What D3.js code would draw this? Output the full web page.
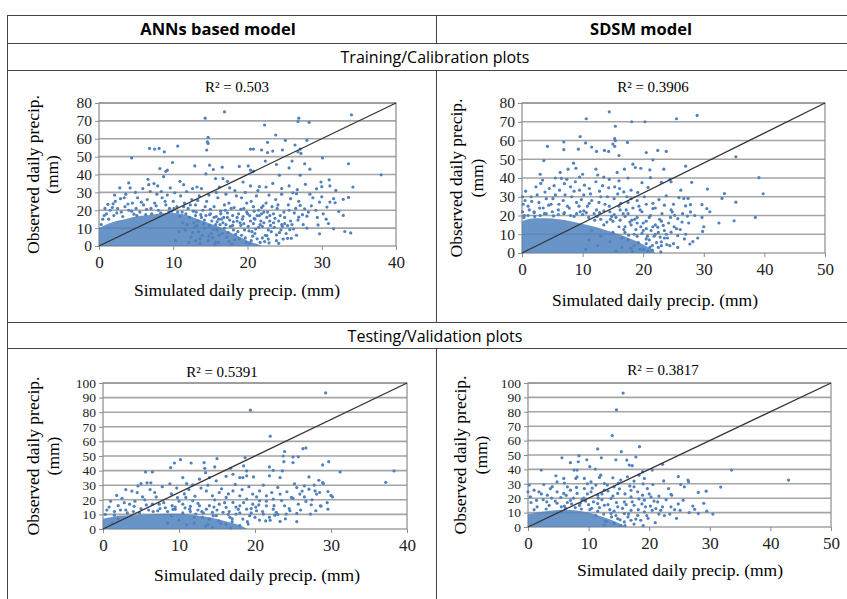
<!DOCTYPE html>
<html>
<head>
<meta charset="utf-8">
<script src="https://cdn.jsdelivr.net/npm/d3@7"></script>
<style>
  body { margin: 0; background: #fff; }
</style>
</head>
<body>
<div id="chart"></div>
<script>
// ---- values ----
var columnTitles = ["ANNs based model", "SDSM model"];
var rowTitles = ["Training/Calibration plots", "Testing/Validation plots"];
var r2Labels = ["R\u00B2 = 0.503", "R\u00B2 = 0.3906", "R\u00B2 = 0.5391", "R\u00B2 = 0.3817"];
var xTitle = "Simulated daily precip. (mm)";
var yTitle = ["Observed daily precip.", "(mm)"];

var xTicks40 = [0, 10, 20, 30, 40];
var xTicks50 = [0, 10, 20, 30, 40, 50];
var yTicks80 = [0, 10, 20, 30, 40, 50, 60, 70, 80];
var yTicks100 = [0, 10, 20, 30, 40, 50, 60, 70, 80, 90, 100];

// upper edge of the solid blue cloud near the origin [simulated, observed]
var annTrainCore = [[0,10],[1,12],[2,13.5],[3,14.5],[4,15.5],[5,16.5],[6,17],[7,17.5],[8,18],[9,18.5],[10,18.5],[11,18],[12,17],[13,15.5],[14,14],[15,12.5],[16,11],[17,9],[18,7],[19,5],[20,3],[21,1.5],[22,0]];
var sdsmTrainCore = [[0,17],[1,18],[2,18.5],[4,18.5],[6,18],[8,17],[10,15.5],[12,14],[14,12],[16,10],[18,7.5],[20,4.5],[21.5,1.5],[22,0]];
var annTestCore = [[0,7],[1,8],[2,9],[4,9.5],[6,10],[8,10.5],[10,10.5],[12,9.5],[14,8],[16,5.5],[18,2.5],[19,0]];
var sdsmTestCore = [[0,9],[2,10.5],[4,11.5],[6,12],[8,11.5],[10,10],[12,7.5],[14,4.5],[15.5,1.5],[16,0]];

// individual points outside the solid cloud [simulated, observed]
var annTrainPts = [
  [16.9,75],[14.3,71.5],[34,73.4],[26.9,71.5],[26.8,69.6],[28.3,69.2],[22.3,67.7],[23.8,62.1],[14.7,60.8],[14.6,58.3],
  [14.7,57.4],[22.7,58],[25.1,59.1],[26.4,56.5],[28,59.1],[6.8,54.6],[7.5,54.2],[8.1,54.6],[8.8,52.7],[10.6,55.9],
  [14.5,53.7],[20.4,54.2],[20.8,54.2],[21.9,53.7],[22.7,52.3],[23.4,53.1],[24.7,53.7],[27.1,54.2],[27.2,51.8],[26.8,52.7],
  [4.4,49.3],[30.1,49.3],[9.9,46.7],[22.4,47.5],[26,47.5],[12.9,44.8],[14.9,45.2],[15.4,42.8],[8.2,43.3],[9,41.8],
  [9.2,42.4],[8.7,38.8],[16.6,44.1],[18.9,44.5],[20.1,44.8],[20.4,42.4],[20.8,41.8],[23.9,45.6],[25.6,43.7],[24.3,39.6],
  [27.7,46],[28.4,43],[27.1,39.6],[33.6,46],[38,39.8],[6.6,37.3],[7.4,34.9],[7.9,33.6],[14.4,40.3],[15.7,37.7],
  [10.9,36.2],[11.4,34.3],[16.7,37.7],[17.3,36.2],[29.9,35.8],[31,37],[30,33.2],[31.1,33.6],[34.2,33],[33.6,27.2],
  [2.8,32.5],[4,35.3],[4.2,32.5],[1.2,23.3],[1.9,23.6],[2.9,26.5],[3.4,27],[5.9,32.1],[6.7,34.3],[9.6,32.5],
  [10.2,29.8],[12.6,32.1],[13.2,33],[13.8,32.1],[19.4,35.8],[20.4,33.6],[21.6,33.2],[22.5,33],[24.6,32.1],[25.6,33.6],
  [26.1,29.8],[26.6,29.3],[31.9,31.1],[31.6,26.5],[32.9,26.1],[31.1,24.6],[31.8,24.2],[29.7,24.6],[30.7,21.8],[32.3,19.3],
  [32.9,17.1],[29.5,11.8],[30.9,12.6],[31.6,9.6],[33.1,8.1],[33.9,7.3],[29.7,6.8],[26.9,16.1],[28,16.7],[27.7,20.8],
  [27.1,22.7],[25.4,11.4],[25.7,9.2],[25.4,4.3],[22.9,1.7],[22.8,3.9],[22.6,5.8],[23.9,6.2],[24.8,3.9],[25.9,4.3],
  [0.5,15],[1,18],[1.5,20],[2,17],[2.5,21],[3,19],[3.5,22],[4,20],[4.5,24],[5,21],[5.5,19],[6,23],[6.5,26],[7,21],
  [7.5,24],[8,20],[8.5,27],[9,23],[9.5,21],[10,25],[10.5,22],[11,28],[11.5,24],[12,21],[12.5,26],[13,23],[13.5,28],
  [5.2,27],[3.6,29],[7.8,29],[2.2,25],[0.8,21],[6.3,17.5],[9.8,19.5],[4.7,17.8],[11.2,19],
  [14,20],[14.5,25],[15,18],[15.5,22],[16,27],[16.5,15],[17,20],[17.5,24],[18,17],[18.5,28],[19,13],[19.5,21],[20,18],
  [20.5,25],[21,15],[21.5,20],[22,11],[22.5,24],[23,17],[23.5,13],[24,21],[24.5,9],[25,16],[25.5,23],[26,12],[14.2,10],
  [15.1,7],[16.3,12],[17.2,5],[18.1,9],[19.2,6],[20.1,11],[21.3,4],[20.6,8],[19.8,2],[18.6,14],[17.7,11],[16.8,16],
  [15.9,9],[15.2,14],[13.8,16],[13.4,8],[14.7,3],[16.1,2],[17.9,1],[21.8,14],[22.7,19],[23.2,8],[24.2,14],[23.8,26],
  [21.2,28],[19.7,30],[18.3,31],[17.1,29],[16.2,33],[20.8,22],[22.1,22.5],[19.4,16.5],[24.9,19],[25.8,26.5],[26.5,21],
  [24.6,29],[12.8,13],[13.1,19],[11.9,12],[12.4,5],[13.6,1.5],[15.6,0.8],[14.9,11.5],[17.4,7.5],[18.9,4],[20.3,1.5],
  [12.2,16],[12.9,10.5],[13.3,14],[13.9,6],[14.4,17],[15.3,4.5],[15.8,16.5],[16.6,7],[16.9,10],[17.6,14.5],[18.4,6.5],
  [18.8,18],[19.6,9],[20.4,14],[21,7],[21.6,17],[22.3,2.5],[20.9,19.5],[19.1,11.5],[17.3,18.5],[16.4,19.5],[14.1,12.5],
  [13,3],[15.7,12],[18.2,21.5],[19.9,24],[22.6,16],[23.6,10.5]
];
var annTrainPtsDense = [
  [10.3,3],[10.8,8],[11.3,13],[11.7,18],[12.1,2],[12.6,7.5],[13.2,11.5],[13.7,17.5],[14.3,22],[14.8,5.5],[15.4,9.5],
  [15.9,13.5],[16.4,18],[16.9,23],[17.5,2.5],[18,11.5],[18.6,16],[19.1,20.5],[19.7,4.5],[20.2,8.5],[20.8,12.5],[21.3,17],
  [21.9,21.5],[22.4,6],[23,14],[23.5,18],[24.1,23],[24.7,11],[25.2,7],[25.8,14],[26.3,18.5],[26.9,25],[27.5,12],
  [28.2,19],[28.8,27],[29.4,16],[30.2,18],
  [10.1,21],[10.9,16.5],[11.6,9],[12.3,23],[13,17],[13.6,4],[14.2,14.5],[15,20.5],[15.7,2],[16.2,6],[16.7,13],[17.3,16],
  [17.8,21],[18.3,3.5],[18.7,8],[19.3,15],[19.9,19],[20.5,3],[21.1,9.5],[21.7,12],[22.2,19],[22.8,9],[23.3,22],[23.9,3],
  [24.4,17],[25,12.5],[25.6,20],[26.2,9.5],[26.8,14.5],[27.4,17.5],[28,10],[28.6,22.5],[29.2,20],[30,27.5],[30.6,15],
  [0.3,12],[0.7,17],[1.3,15],[1.8,21.5],[2.4,18.5],[3.2,16.5],[3.9,23.5],[4.4,19.5],[5.1,17],[5.7,24.5],[6.4,20.5],
  [7.1,18],[7.7,22.5],[8.3,18.5],[8.9,25],[9.4,19],[10.6,19],[11.4,22],[12.7,19.5],[6.9,30.5],[8.4,30.5],[2.1,28.5],
  [4.9,30],[9.2,28.5],[11.8,30.5],[13.3,25.5],[14.8,28.5],[15.8,30],[17.6,32.5],[19.2,27],[21.4,31],[22.9,28.5],
  [23.4,35],[26.7,31.5],[28.4,29],[29.3,32],[27.8,34.5],
  [20.9,15.5],[21.9,18],[22.2,13],[23.1,11.5],[23.7,15.5],[24.3,7.5],[24.6,12],[21.5,10.5],[22,4.5],[20.7,5.5],
  [19.5,12.5],[18.1,13.5],[17.1,12],[16.1,15],[15.5,16],[14.9,17.5],[20.3,17],[24.2,1.5],[21.7,2],[26.6,6]
];
var sdsmTrainPts = [
  [14.4,75.3],[10.6,71.6],[15.4,67.6],[18.1,70],[20.3,70],[25.5,71.6],[28.9,73.4],[9.6,62.1],[15.3,61],[15.4,59.9],
  [15,58.1],[10.5,58.7],[6.9,59.2],[6.9,55.1],[4.2,56.9],[9.3,55.4],[11.5,56.5],[12.3,54.2],[13.6,54.7],[14.3,54.2],
  [15.3,56.9],[16,52],[17.4,59],[20.5,53.6],[22.4,54.7],[23.8,54.2],[21.6,49.7],[3.6,49.3],[35.3,51.3],[6.3,43],
  [7.6,44.7],[8.5,47.9],[8.9,45.2],[12.2,44.7],[9.5,40.5],[12.5,41.6],[14.4,39.3],[15.7,43],[16.9,44.7],[18.3,47.4],
  [18.7,45.6],[19.6,45.2],[21.1,44.3],[23.4,44.7],[21.2,40.2],[24.4,39.3],[24.6,38],[23,37.7],[27,46.3],[39.1,40.2],
  [39.8,31.6],[30.6,34.1],[33.4,31.7],[33,29.1],[35.3,27.1],[32.5,16],[35,17.2],[38.5,19],[29.7,25.8],[30.5,23.7],
  [29.7,19],[29.8,11.5],[26.7,29.1],[27.4,29.1],[27,25.1],[27.8,25.8],[27.8,21.9],[27.3,19.7],[26.2,33.5],[28,37.7],
  [21.6,23.7],[23.5,25.5],[24.8,21.9],[25.2,20.1],[25.7,18.3],[23.3,14.7],[24.6,11.1],[25.7,9.3],[26.8,7.5],[27.7,4.8],
  [28.2,6.1],[24.4,3.9],[25.7,3],[20.5,7.5],[21.3,12],[22.4,13.8],[21.1,3],[23,3.9],
  [2.3,35.3],[3.1,37.1],[3.4,38.9],[4.5,34.4],[5.3,35.9],[6.5,39.8],[7.4,39.3],[8,35.3],[8.8,38],[10.3,36.2],
  [11.1,34.4],[12.2,38],[13.3,35.9],[14.3,34.8],[15.3,35.3],[16.1,34.4],[16.8,32.6],[18,33.5],[19.1,32.3],
  [0.5,28],[1,25],[1.5,30],[2,22],[2.8,27],[3.5,24],[4,29],[4.8,26],[5.5,31],[6,23],[6.8,28],[7.5,25],[8.2,30],
  [9,27],[9.6,22],[10.2,31],[10.8,25],[11.5,28],[12.3,23],[13,30],[13.7,26],[14.5,22],[15.2,29],[16,25],[16.7,21],
  [17.5,27],[18.3,24],[19,28],[19.8,22],[20.5,26],[21.2,20],[22,24],[18.6,18],[20,16],
  [16,14],[17,11],[18,15],[19,9],[20,12],[21,7],[22,10],[23,6],[18.5,4],[19.5,2],[20.5,5],[17.5,7],[16.5,3],
  [15.5,1],[21.5,1.5],[22.5,3],[24,8],[23.5,12],[22,15],[20.5,17],[19,19],[17,19.5],[15,17],[13,18],[14,16.5],
  [12,17.5],[11,19],[10,20.5],[9,21],[8,20],[7,21.5],[6,20.5],[5,22],[4,21],[3,20],[2,21.5],[1,20],[0.3,19],
  [0.1,30],[0.2,26],[0.1,22],[12.8,21.5],[14.8,19.5],[16.2,23],[17.8,16.5],[19.6,14],[21.8,9],[22.7,18],[24.2,16],
  [25.1,14],[26.1,12.5],[24.6,23],[23.1,21],[26.4,16.5],[20.8,1],[18.2,0.8],[22.9,0.6]
];
var sdsmTrainPtsDense = [
  [10.5,2],[11,7],[11.5,12],[12.5,4],[13,9],[13.5,15],[14.5,6],[15,11],[15.5,19],[16.5,8],[17,14],[17.5,21],[18.5,10],
  [19,16],[19.5,23],[20.5,13],[21,19],[21.5,4],[22.5,11],[23,17],[23.5,8],[24.5,19],[25,5],[25.5,13],[26.5,21],[27,10],
  [27.5,16],[28.5,20],[29,8],[30,14],[31,22],
  [0.4,20],[1.2,23],[2.1,19.5],[2.9,24],[3.7,21],[4.4,25.5],[5.2,19.8],[6.1,26],[6.9,21],[7.8,24],[8.6,19.5],[9.4,25],
  [10.2,22.5],[11.1,26.5],[11.9,21],[12.7,27],[13.5,22.5],[14.4,25],[15.2,20.5],[16.3,26.5],[17.2,23],[18,29],[19.3,25],
  [20.2,30],[21.6,26.5],[22.6,28.5],[23.8,30.5],[25,26],[25.9,29.5],
  [0.6,33],[1.6,27.5],[2.5,31],[3.8,32.5],[5.1,29],[6.2,33.5],[7.1,31],[8.6,33],[9.8,28.5],[11.3,31.5],[12.8,33],
  [14.1,30],[15.8,31.5],[17.3,30],[3,42],[5.5,40],[7,37],[10,42],[13.5,40.5],[16,38.5],[17.5,40],[19.8,37.5],
  [20.8,35],[9.5,33.5],
  [16.8,12.5],[17.6,9.5],[18.8,12.5],[19.8,10.5],[20.7,9],[21.6,14],[22.8,8.5],[23.8,10],[19.2,5.5],[18,2.5],
  [20.1,1.8],[22.2,5.5],[23.9,4.5],[16.2,17.5],[18.1,17.5],[14.6,18],[12.4,19.5],[10.6,21.5]
];
var annTestPts = [
  [29.3,93.2],[19.4,81.4],[22,63.6],[26.3,55],[26.7,55.5],[23.9,53],[23.7,50],[23.8,46.1],[25,49.3],[18.7,48.9],
  [15,48.2],[10.2,47.5],[9.4,45.2],[8.9,42],[11.6,45.2],[13.3,45.5],[13.4,41.6],[13.5,38.6],[14.7,42.5],[28.9,43.9],
  [29.7,46.1],[28.9,31.8],[29,31.1],[31.2,39.1],[37.2,32],[38.3,39.8],[5.6,39.1],[6.5,39.1],[5,31.1],[5.8,31.6],
  [6.3,31.6],[16.8,41.6],[18.5,43.2],[18.9,39.8],[18.4,35.2],[21.9,42.5],[25.7,49.5],[25,45.5],[19.8,35.7],[22.4,40.2],
  [23.6,39.8],[23.3,35.2],[21.9,36.4],[27.1,35.7],[28.4,33.4],[29.6,25.7],[30.2,22],[26.5,29.5],[27.1,27.3],[27.9,26.1],
  [28.1,23.9],[26.7,18.9],[27.4,16.6],[28.7,15.7],[29.6,13.6],[25.5,28.4],[25.9,23.9],[24.8,21.6],[25.7,17],[24.6,12.5],
  [25.5,10.7],[27.3,10.2],[28.6,15.9],[23.3,5.2],[10.5,35.2],[11,31.1],[11.8,30.2],[12.7,34.1],[14,35.2],[14.9,33],
  [16.2,36.1],[17.1,37.5],[18,35.2],[18.9,36.4],
  [13.6,26.1],[14.4,22.7],[15.3,25],[16.2,21.6],[17.1,26.1],[18,22.7],[18.9,20.5],[19.7,23.9],[20.6,26.1],[21.5,22.7],
  [22.4,20.5],[23.3,23.9],[15.3,17],[16.2,14.8],[17.1,18.2],[18,15.9],[18.9,13.6],[19.7,17],[20.6,19.3],[21.5,15.9],
  [22.4,13.6],[13.6,13.6],[14.4,11.4],[12.7,15.9],[11.8,19.3],[10.9,21.6],[10.5,17],[11.4,13.6],[12.2,10.2],[13.1,8],
  [14,6.8],[14.9,9.1],[15.8,11.4],[16.7,8],[17.5,10.2],[18.4,6.8],[19.3,9.1],[20.2,12.5],[21.1,10.2],[21.9,8],
  [22.8,11.4],[23.9,15.9],[24.1,10.2],[19.1,3.4],[18,2.3],[16.2,3.4],[20.6,6.1],
  [1,19],[2,16],[2.5,21],[3,13],[3.5,17],[4,12],[4.5,25],[5,14],[5.5,20],[6,13],[6.5,17],[7,22],[7.5,14],[8,18],
  [8.5,12],[9,24],[9.5,15],[10,19],[0.5,13],[1.5,12],[3.8,26],[6.2,27],[7.8,29],[8.8,31],[5.2,22],[2.8,18],[9.7,28],
  [4.2,19],[11.5,12],[12.5,13],[13.2,11],[14.6,15],[16.6,12],[17.8,13.5],[20.1,15],[12,4],[13.8,3],[15.2,5.5],
  [17,5],[14.4,1],[16.8,0.7],[10.8,14.5],[9.2,13.5],[7.2,12.5],[19.5,11],[21.4,5.5],[22.6,9.5]
];
var annTestPtsDense = [
  [8.5,4],[9,9],[9.5,13.5],[10,6],[10.5,11],[11,3],[11.5,15.5],[12,8],[12.5,17.5],[13,12],[13.5,2],[14,16],[14.5,9],
  [15,13],[15.5,4],[16,18],[16.5,10],[17,7],[17.5,15],[18,11],[18.5,18],[19,5],[19.5,14],[20,8],[20.5,16.5],[21,12],
  [21.5,19],[22,6],[22.5,16],[23,10],[23.5,19.5],[24,7],[24.5,14],[25,21],[25.5,5],[26,13],[26.5,22],[27.5,20],
  [28,12.5],[28.5,25],[29.5,18],[30,23],
  [0.3,10],[0.8,15],[1.5,9.5],[2.3,13],[3.2,11],[4.1,15.5],[4.8,11],[5.7,16.5],[6.6,12],[7.4,17],[8.2,14.5],[9.1,16],
  [9.8,21.5],[10.7,24],[11.3,27],[12.1,22.5],[12.9,28],[13.8,30],[14.7,20],[15.6,27.5],[16.5,24],[17.4,30.5],[18.3,27],
  [19.2,29],[20.2,22],[21.1,30],[22.2,25],[23,28.5],[24.2,25.5],[25.2,31],[26.2,26],[27.8,30],[1.8,23],[3,27],
  [4.6,29.5],[6.8,25],[2,7],[1.2,4]
];
var sdsmTestPts = [
  [15.7,93],[14.6,81.4],[13.9,63.5],[11.5,54.2],[15.4,52.3],[18.4,55.8],[5.6,48.1],[8.4,49.5],[9.7,46.7],[12.1,48.1],
  [14.5,46.7],[16.3,46.5],[16.7,43],[17.2,42.6],[17.8,48.6],[7,44.7],[8.3,45.3],[8.1,39.5],[10.2,41.9],[11.1,40.2],
  [11.8,34.4],[2.2,39.5],[20.5,39.5],[22.2,43.5],[33.6,39.5],[43,32.6],[31.8,27.7],[26.4,32.6],[26.5,31.4],[25.2,29.5],
  [25.8,27.9],[23.2,26.7],[23.6,22.6],[23.7,22.1],[28.1,24],[29.4,24.9],[29,16.5],[27.5,12.3],[28.1,9.3],[25.6,18.6],
  [25.1,11.6],[23.6,14],[7.6,39.5],[7.9,33.7],[8.1,34.9],[9.3,33.7],[10.4,31.4],[12,36],[12.6,30.2],[14,34.2],
  [15.3,32.6],[16.4,34.9],[17.5,31.9],[18.3,36],[19.2,33.7],[18.9,38.4],[4.6,35.6],[4.8,31.4],[5.9,33.7],[6.5,27.9],
  [2.6,29.5],[3.7,26.7],[1.8,24.4],[1,25.6],[0.2,29.1],[0,24.4],
  [10.4,24.4],[11.5,22.1],[12.6,25.6],[13.7,19.8],[14.8,23.3],[15.9,17.4],[17,20.9],[18.1,24.4],[19.2,18.6],[20.3,20.9],
  [21.4,17.4],[21.9,11.6],[20.5,11.6],[19.2,10.5],[18.1,8.1],[17,11.6],[15.9,9.3],[14.8,5.8],[15.9,3.5],[17,4.7],
  [18.6,4.7],[13.7,9.3],[12.6,15.1],[14.8,14],[11.5,16.3],[17.5,15.1],[19.4,14],[21.1,12.8],[18.9,22.1],[19.7,26.7],
  [17.5,27.9],[13.1,29.1],[14.2,27.9],[11.2,29.1],[9.3,26.7],[8.1,23.3],[7,25.6],[5.9,23.3],[4.8,24.4],[3.2,22.1],
  [12.6,1.2],[15.3,1.2],
  [0.5,17],[1.5,14],[2.5,19],[3.5,15],[4.5,18],[5.5,14],[6.5,17],[7.5,20],[8.5,15],[9.5,18],[10.5,13],[11.5,11],
  [12.5,9],[13.5,12],[14.5,8],[16.5,7],[17.5,2],[19.8,6],[22.5,8],[24.5,6],[21,3],[10,15.5],[8.8,12.5],[6.2,13],
  [3,12.5],[1,12],[13,4],[14.2,2.5]
];
var sdsmTestPtsDense = [
  [6,14.5],[7,18.5],[7.8,13.5],[8.6,16.5],[9.2,20],[10.2,12],[10.8,17.5],[11.2,8],[11.8,13.5],[12.2,19],[12.8,4],
  [13.2,15.5],[13.8,7],[14.2,11],[14.6,17],[15.2,5],[15.6,13],[16.2,15.5],[16.6,9],[17.2,17.5],[17.8,5.5],[18.2,12],
  [18.8,16],[19.6,8],[20.2,14.5],[20.8,18],[21.6,9],[22.2,14],[22.8,19],[23.4,9],[24.2,12],[24.8,16],[26.6,10],
  [27.2,14.5],[29.5,11],[30.5,9],[19,1],[16,1],
  [0.4,21],[1.4,18.5],[2.2,23],[3.1,17.5],[3.9,20],[4.8,16.5],[5.4,20.5],[6.3,22],[7.2,16],[8,27.5],[8.9,19],[9.8,23],
  [10.6,27],[11.6,20],[12.2,23],[13.2,25],[14,21.5],[15.1,26.5],[16,23],[17,25.5],[18.3,19.5],[19,30],[20,23],
  [21.6,21.5],[4,28],[6,30.5],[9.8,30],[14.9,30.5],[16.8,28.5],[20.6,29.5],[22.4,32],[24.8,35]
];

// ---- layout ----
var width = 847, height = 599;
var blue = "#4f81bd";
var serif = "'Liberation Serif', 'Times New Roman', serif";
var sans = "'Open Sans', 'Noto Sans', sans-serif";

var svg = d3.select("#chart").append("svg")
  .attr("width", width)
  .attr("height", height);

// table frame
var tableLines = svg.append("g")
  .attr("stroke", "#444")
  .attr("stroke-width", 1)
  .attr("shape-rendering", "crispEdges");

[15.5, 43.5, 70.5, 322.5, 348.5].forEach(function(y) {
  tableLines.append("line").attr("x1", 7).attr("x2", width).attr("y1", y).attr("y2", y);
});
tableLines.append("line").attr("x1", 7.5).attr("x2", 7.5).attr("y1", 15).attr("y2", height);
[[15, 43], [70, 322], [348, height]].forEach(function(seg) {
  tableLines.append("line").attr("x1", 436.5).attr("x2", 436.5).attr("y1", seg[0]).attr("y2", seg[1]);
});

// header texts
svg.append("text").attr("x", 218).attr("y", 35)
  .attr("text-anchor", "middle").attr("font-family", sans)
  .attr("font-size", 16.5).attr("font-weight", "bold").text(columnTitles[0]);
svg.append("text").attr("x", 641).attr("y", 35)
  .attr("text-anchor", "middle").attr("font-family", sans)
  .attr("font-size", 16.5).attr("font-weight", "bold").text(columnTitles[1]);
svg.append("text").attr("x", 435).attr("y", 63)
  .attr("text-anchor", "middle").attr("font-family", sans)
  .attr("font-size", 16).text(rowTitles[0]);
svg.append("text").attr("x", 435).attr("y", 342)
  .attr("text-anchor", "middle").attr("font-family", sans)
  .attr("font-size", 16).text(rowTitles[1]);

// one scatter panel
function drawPanel(o) {
  var g = svg.append("g");

  var xMax = o.xTicks[o.xTicks.length - 1];
  var yMax = o.yTicks[o.yTicks.length - 1];
  var x = d3.scaleLinear().domain([0, xMax]).range([o.left, o.right]);
  var y = d3.scaleLinear().domain([0, yMax]).range([o.bottom, o.top]);

  // gridlines
  g.append("g")
    .selectAll("line")
    .data(o.yTicks.slice(1))
    .enter().append("line")
    .attr("x1", o.left).attr("x2", o.right)
    .attr("y1", function(d) { return y(d); })
    .attr("y2", function(d) { return y(d); })
    .attr("stroke", "#a5a5a5")
    .attr("stroke-width", 1.6);

  // frame
  g.append("rect")
    .attr("x", o.left).attr("y", o.top)
    .attr("width", o.right - o.left).attr("height", o.bottom - o.top)
    .attr("fill", "none").attr("stroke", "#8c8c8c").attr("stroke-width", 1.2);

  // axes
  var xAxis = g.append("g")
    .attr("transform", "translate(0," + o.bottom + ")")
    .call(d3.axisBottom(x).tickValues(o.xTicks).tickSize(4).tickPadding(6));
  var yAxis = g.append("g")
    .attr("transform", "translate(" + o.left + ",0)")
    .call(d3.axisLeft(y).tickValues(o.yTicks).tickSize(4).tickPadding(3));
  [xAxis, yAxis].forEach(function(a) {
    a.select(".domain").remove();
    a.selectAll("line").attr("stroke", "#8c8c8c");
    a.selectAll("text").attr("font-family", serif).attr("fill", "#222");
  });
  xAxis.selectAll("text").attr("font-size", o.xTickSize);
  yAxis.selectAll("text").attr("font-size", o.yTickSize);

  // dense cloud near the origin
  var area = d3.area()
    .x(function(d) { return x(d[0]); })
    .y0(y(0))
    .y1(function(d) { return y(d[1]); })
    .curve(d3.curveMonotoneX);
  g.append("path")
    .datum(o.core)
    .attr("d", area)
    .attr("fill", blue)
    .attr("opacity", 0.85);

  // points
  g.append("g")
    .selectAll("circle")
    .data(o.pts)
    .enter().append("circle")
    .attr("cx", function(d) { return x(d[0]); })
    .attr("cy", function(d) { return y(d[1]); })
    .attr("r", 1.6)
    .attr("fill", blue);

  // diagonal reference line, corner to corner
  g.append("line")
    .attr("x1", x(0)).attr("y1", y(0))
    .attr("x2", x(xMax)).attr("y2", y(yMax))
    .attr("stroke", "#333").attr("stroke-width", 1.3);

  // R squared label
  g.append("text")
    .attr("x", o.r2x).attr("y", o.r2y)
    .attr("text-anchor", "middle")
    .attr("font-family", serif).attr("font-size", 15)
    .text(o.r2);

  // axis titles
  g.append("text")
    .attr("x", o.xTitleX).attr("y", o.xTitleY)
    .attr("text-anchor", "middle")
    .attr("font-family", serif).attr("font-size", 17.5)
    .text(xTitle);
  var cy = (o.top + o.bottom) / 2;
  yTitle.forEach(function(t, i) {
    g.append("text")
      .attr("transform", "translate(" + o.yTitleX[i] + "," + cy + ") rotate(-90)")
      .attr("text-anchor", "middle")
      .attr("dominant-baseline", "central")
      .attr("font-family", serif).attr("font-size", 17.5)
      .text(t);
  });
}

drawPanel({
  left: 99, right: 396, top: 103, bottom: 246,
  xTicks: xTicks40, yTicks: yTicks80, core: annTrainCore, pts: annTrainPts.concat(annTrainPtsDense),
  r2: r2Labels[0], r2x: 237, r2y: 92,
  xTitleX: 237, xTitleY: 296, yTitleX: [33, 52],
  xTickSize: 17, yTickSize: 15.5
});
drawPanel({
  left: 522, right: 825, top: 103, bottom: 253,
  xTicks: xTicks50, yTicks: yTicks80, core: sdsmTrainCore, pts: sdsmTrainPts.concat(sdsmTrainPtsDense),
  r2: r2Labels[1], r2x: 653, r2y: 92,
  xTitleX: 655, xTitleY: 306, yTitleX: [456, 477],
  xTickSize: 17, yTickSize: 15.5
});
drawPanel({
  left: 103, right: 407, top: 383, bottom: 529,
  xTicks: xTicks40, yTicks: yTicks100, core: annTestCore, pts: annTestPts.concat(annTestPtsDense),
  r2: r2Labels[2], r2x: 222, r2y: 377,
  xTitleX: 257, xTitleY: 581, yTitleX: [33, 53],
  xTickSize: 17, yTickSize: 13.5
});
drawPanel({
  left: 528, right: 831, top: 383, bottom: 527,
  xTicks: xTicks50, yTicks: yTicks100, core: sdsmTestCore, pts: sdsmTestPts.concat(sdsmTestPtsDense),
  r2: r2Labels[3], r2x: 663, r2y: 375,
  xTitleX: 680, xTitleY: 576, yTitleX: [460, 481],
  xTickSize: 17, yTickSize: 13.5
});
</script>
</body>
</html>
